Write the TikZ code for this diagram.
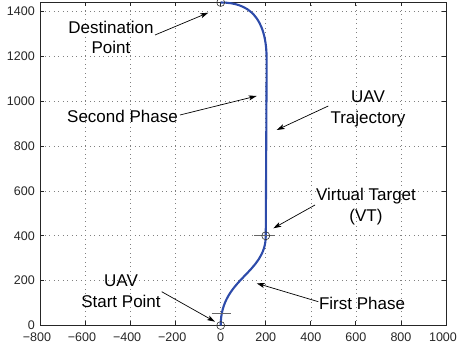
\documentclass[tikz,border=0pt]{standalone}
\usepackage{fontspec}
\setmainfont{Liberation Sans}
\usetikzlibrary{arrows.meta}
\definecolor{trajblue}{RGB}{45,75,170}
\begin{document}
\begin{tikzpicture}[
  gridline/.style={draw=black!50, line width=0.6pt, dash pattern=on 0.7pt off 3.8pt},
  axisbox/.style={draw=black!85, line width=1pt},
  tickmark/.style={draw=black!85, line width=0.8pt},
  ticklabel/.style={font=\fontsize{12.5}{14}\selectfont, text=black!85, inner sep=0pt},
  annot/.style={font=\fontsize{17}{20.5}\selectfont, inner sep=0pt, anchor=base},
  pointer/.style={draw=black, line width=0.7pt, -{Stealth[length=8pt,width=5pt,inset=2pt]}},
  markerc/.style={circle, draw=black!80, line width=0.6pt, minimum size=8pt, inner sep=0pt},
  vecline/.style={draw=black!60, line width=0.8pt},
  traj/.style={draw=trajblue, line width=2.1pt},
]
\useasboundingbox (0,0) rectangle (458pt,-352pt);
\begin{scope}[shift={(220.7pt,-325.5pt)}, x={(0.2253pt,0)}, y={(0,0.2243pt)}]
  % grid
  \foreach \gx in {-600,-400,...,800} \draw[gridline] (\gx,0) -- (\gx,1440);
  \foreach \gy in {200,400,...,1400} \draw[gridline] (-800,\gy) -- (1000,\gy);
  % ticks
  \foreach \gx in {-800,-600,...,1000} {
    \draw[tickmark] (\gx,0) -- ++(0,4pt);
    \draw[tickmark] (\gx,1440) -- ++(0,-4pt);
  }
  \foreach \gy in {0,200,...,1400} {
    \draw[tickmark] (-800,\gy) -- ++(4pt,0);
    \draw[tickmark] (1000,\gy) -- ++(-4pt,0);
    \node[ticklabel, anchor=east] (yl\gy) at ([xshift=-5.5pt]-800,\gy) {\gy};
  }
  \foreach \gx/\lab/\dx in {-800/−800/-3.5, -600/−600/-3.5, -400/−400/-3.5, -200/−200/-3.5,
                            0/0/0, 200/200/0, 400/400/0, 600/600/0, 800/800/0, 1000/1000/-3} {
    \node[ticklabel, anchor=north] (xl\gx) at ([xshift=\dx pt, yshift=-7.5pt]\gx,0) {\lab};
  }
  % box
  \draw[axisbox] (-800,0) rectangle (1000,1440);
  % trajectory
  \draw[traj] (0,0) .. controls (0,210) and (200,230) .. (200,400)
    -- (204,1180) .. controls (205,1380) and (120,1440) .. (0,1440);
  % markers
  \draw[vecline] (-40,54) -- (46,54);
  \draw[vecline] (148,400) -- (241,400);
  \node[markerc] (startpt) at (0,0) {};
  \node[markerc] (vtpt) at (200,400) {};
  \node[markerc] (destpt) at (0,1440) {};
\end{scope}
\begin{scope}[x={(1pt,0)}, y={(0,-1pt)}]
  \node[annot] (destlbl) at (111,33.3) {\begin{tabular}[t]{@{}c@{}}Destination\\Point\end{tabular}};
  \node[annot] (seclbl) at (122.5,122.3) {Second Phase};
  \node[annot] (trajlbl) at (368,102.7) {\begin{tabular}[t]{@{}c@{}}UAV\\Trajectory\end{tabular}};
  \node[annot] (vtlbl) at (366,200.7) {\begin{tabular}[t]{@{}c@{}}Virtual Target\\(VT)\end{tabular}};
  \node[annot] (firstlbl) at (362,310) {First Phase};
  \node[annot] (startlbl) at (121,286.7) {\begin{tabular}[t]{@{}c@{}}UAV\\Start Point\end{tabular}};
  \coordinate (destT) at (155,35);   \coordinate (destH) at (208.3,12.7);
  \coordinate (secT) at (180,115);   \coordinate (secH) at (256.7,96);
  \coordinate (trajT) at (328.3,106); \coordinate (trajH) at (276.7,130);
  \coordinate (vtT) at (315,205);    \coordinate (vtH) at (273.3,228.3);
  \coordinate (firstT) at (318.3,301.7); \coordinate (firstH) at (256.7,283.3);
  \coordinate (startT) at (161.7,291.7); \coordinate (startH) at (215,321.7);
  \draw[pointer] (destT) -- (destH);
  \draw[pointer] (secT) -- (secH);
  \draw[pointer] (trajT) -- (trajH);
  \draw[pointer] (vtT) -- (vtH);
  \draw[pointer] (firstT) -- (firstH);
  \draw[pointer] (startT) -- (startH);
\end{scope}
\end{tikzpicture}
\end{document}
